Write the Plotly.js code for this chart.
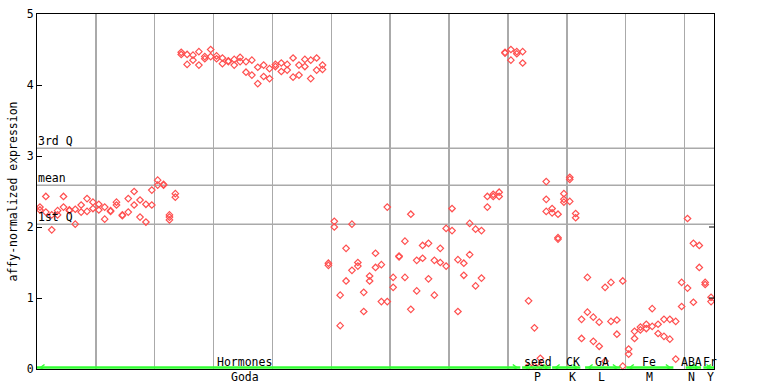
<!DOCTYPE html>
<html><head><meta charset="utf-8">
<script src="https://cdn.plot.ly/plotly-3.0.1.min.js"></script>
<style>html,body{margin:0;padding:0;background:#fff}#c{width:768px;height:384px}</style>
</head><body><div id="c"></div>
<script>
// expression values per sample (replicates), sample index = position in array
const sampleValues = [
 [2.28,2.24],[2.43,2.21],[2.17,1.96],[2.23,2.17],[2.43,2.28],[2.24,2.23],[2.25,2.04],[2.31,2.21],[2.40,2.22],[2.35,2.26],
 [2.32,2.24],[2.28,2.11],[2.23,2.22],[2.35,2.31],[2.17,2.16],[2.40,2.21],[2.50,2.31],[2.38,2.14],[2.32,2.07],[2.52,2.31],
 [2.66,2.59],[2.60,2.59],[2.17,2.14,2.10],[2.47,2.42],[4.46,4.43],[4.43,4.29],[4.42,4.35],[4.47,4.28],[4.40,4.37],[4.50,4.40],
 [4.41,4.37],[4.38,4.30],[4.34,4.33],[4.36,4.28],[4.39,4.33],[4.33,4.18],[4.35,4.14],[4.25,4.02],[4.28,4.12],[4.23,4.09],
 [4.29,4.26],[4.31,4.19],[4.29,4.21],[4.38,4.11],[4.28,4.14],[4.36,4.26],[4.35,4.09],[4.38,4.21],[4.28,4.22],[1.49,1.46],
 [2.08,2.00],[1.04,0.61],[1.70,1.24],[2.04,1.39],[1.50,1.45],[1.08,0.81],[1.31,1.24],[1.63,1.43],[1.47,0.95],[2.28,0.95],
 [1.29,1.15],[1.59,1.58],[1.80,1.29],[2.18,0.84],[1.53,1.10],[1.74,1.56],[1.77,1.27],[1.53,1.04],[1.70,1.50],[1.98,1.45],
 [2.26,1.95],[1.54,0.81],[1.49,1.32],[2.05,1.61],[1.97,1.17],[1.95,1.28],[2.43,2.28],[2.46,2.43],[2.49,2.43],[4.46,4.45],
 [4.50,4.35],[4.47,4.44],[4.47,4.31],[0.96,0.04],[0.58,0.04],[0.15,0.04],[2.64,2.39,2.22],[2.26,2.20],[2.18,1.85,1.83],[2.47,2.39,2.35],
 [2.70,2.67,2.36],[2.19,2.13],[0.70,0.43],[1.29,0.80],[0.73,0.39],[0.66,0.32],[1.15,0.11],[1.22,0.67],[0.69,0.49],[1.24,0.04],
 [0.28,0.21],[0.53,0.43],[0.59,0.55],[0.63,0.57],[0.85,0.60],[0.63,0.50],[0.70,0.46],[0.70,0.42],[0.67,0.14],[1.22,0.88],
 [2.12,1.14],[1.77,0.94],[1.74,1.43],[1.22,1.19],[1.01,0.95]
];
// quartile reference lines
const quartileNames = ["3rd Q","mean","1st Q"];
const quartileValues = [3.108, 2.587, 2.038];
// experiment groups (top label, bottom code, first/last sample of span)
const groupNames = ["Hormones","seed","CK","GA","Fe","ABA","Fr"];
const groupCodes = ["Goda","P","K","L","M","N","Y"];
const groupStart = [-0.5, 81.9, 87.0, 92.6, 99.6, 109.7, 112.7];
const groupEnd   = [81.6, 86.8, 91.8, 98.6, 107.6, 112.3, 114.5];
const labelCenter = [34.8, 84.6, 90.5, 95.4, 103.5, 110.7, 113.9];
const yTicks = [0,1,2,3,4,5];

const xs=[], ys=[];
sampleValues.forEach((vals,i)=>vals.forEach(v=>{xs.push(i);ys.push(v);}));
const FONT = {family:"DejaVu Sans Mono, Liberation Mono, monospace", size:11.5, color:"#000"};
const red = "#ff4f4f";
const traces = [{
  x:xs, y:ys, type:"scatter", mode:"markers", cliponaxis:false, hoverinfo:"skip",
  marker:{symbol:"diamond-open", size:5, color:red, line:{width:1.2, color:red}}
}];
const shapes = [];
quartileValues.forEach(v=>shapes.push({type:"line", xref:"paper", x0:0, x1:1, yref:"y", y0:v, y1:v, line:{color:"#aaaaaa", width:1.5}, layer:"below"}));
const green = "#33ff33";
groupStart.forEach((s,k)=>{
  const e = groupEnd[k];
  shapes.push({type:"line", xref:"x", x0:s, x1:e, yref:"y", ysizemode:"pixel", yanchor:0, y0:1.5, y1:1.5, line:{color:green, width:2.5}});
  shapes.push({type:"path", xref:"x", xsizemode:"pixel", xanchor:s+0.6, yref:"y", ysizemode:"pixel", yanchor:0, path:"M4,4.5 L0,1.5 L4,-1.5", line:{color:green, width:1.5}});
  shapes.push({type:"path", xref:"x", xsizemode:"pixel", xanchor:e-0.6, yref:"y", ysizemode:"pixel", yanchor:0, path:"M-4,4.5 L0,1.5 L-4,-1.5", line:{color:green, width:1.5}});
});
[1,2].forEach(v=>shapes.push({type:"path", xref:"paper", xsizemode:"pixel", xanchor:1, yref:"y", ysizemode:"pixel", yanchor:v, path:"M0,0 L-5,0", line:{color:"#000", width:1}}));

const annotations = [];
quartileNames.forEach((n,k)=>annotations.push({text:n, xref:"paper", x:0, xanchor:"left", yref:"y", y:quartileValues[k], yanchor:"bottom", yshift:-1, showarrow:false, font:FONT, borderpad:0}));
groupNames.forEach((n,k)=>{
  annotations.push({text:n, xref:"x", x:labelCenter[k], xanchor:"center", yref:"paper", y:0, yanchor:"bottom", yshift:-1, showarrow:false, font:FONT, borderpad:0});
  annotations.push({text:groupCodes[k], xref:"x", x:labelCenter[k], xanchor:"center", yref:"paper", y:0, yanchor:"top", yshift:0, showarrow:false, font:FONT, borderpad:0});
});
annotations.push({text:"affy-normalized expression", textangle:-90, xref:"paper", x:0, xanchor:"center", xshift:-25, yref:"paper", y:0.5, yanchor:"middle", showarrow:false, font:FONT});

const layout = {
  width:768, height:384, margin:{l:37, r:54, t:14, b:15},
  paper_bgcolor:"#fff", plot_bgcolor:"#fff", showlegend:false,
  xaxis:{range:[-0.5,114.5], tick0:9.5, dtick:10, showgrid:true, gridcolor:"#aaaaaa", gridwidth:1.5,
         showticklabels:false, ticks:"", zeroline:false, showline:true, linecolor:"#000", linewidth:1, mirror:true, fixedrange:true},
  yaxis:{range:[0,5], tickvals:yTicks, ticks:"inside", ticklen:5, tickcolor:"#000", showgrid:false, zeroline:false,
         showline:true, linecolor:"#000", linewidth:1, mirror:true, tickfont:FONT, fixedrange:true},
  shapes:shapes, annotations:annotations
};
Plotly.newPlot("c", traces, layout, {displayModeBar:false, staticPlot:true});
</script></body></html>
